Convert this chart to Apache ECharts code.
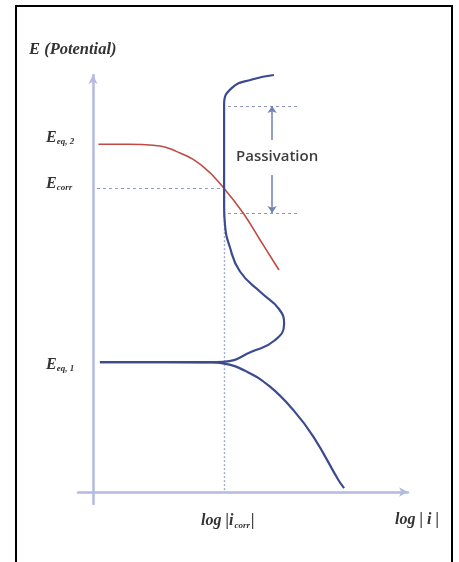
<!DOCTYPE html>
<html>
<head>
<meta charset="utf-8">
<script src="https://cdn.jsdelivr.net/npm/echarts@6/dist/echarts.min.js"></script>
<style>html,body{margin:0;padding:0;background:#fff}#c{width:459px;height:562px}</style>
</head>
<body>
<div id="c"></div>
<script>
// Schematic polarization diagram (arbitrary units): x = log|i|, y = E
const redCurveEq2 = [[0.18,11.59],[1.2,11.59],[2.0,11.56],[2.9,11.3],[3.68,10.84],[4.37,10.12],[5.01,9.29],[5.57,8.4],[6.2,7.4]];
const metalAnodic = [[0.23,4.33],[2.5,4.33],[3.9,4.33],[4.34,4.34],[5.3,4.68],[6.05,5.05],[6.37,5.6],[6.2,6.1],[5.6,6.65],[4.9,7.35],[4.55,8.2],[4.4,8.9],[4.37,9.5],[4.37,11.4],[4.37,12.9],[4.63,13.47],[5.3,13.75],[6.03,13.9]];
const metalCathodic = [[0.23,4.33],[2.5,4.33],[3.9,4.32],[4.33,4.29],[5.13,4.01],[5.9,3.51],[6.68,2.73],[7.35,1.84],[8.18,0.4],[8.37,0.13]];
const eCorr = 10.13;
const iCorr = 4.37;
const ecorrStartX = 0.13;
const passivationTop = 12.87;
const passivationBottom = 9.3;
const passivationX = [4.5, 6.9];
const passArrowX = 5.97;
const passArrowGap = [10.57, 11.73];

const chart = echarts.init(document.getElementById('c'), null, {renderer:'canvas'});
const serif = '"Liberation Serif", "DejaVu Serif", serif';
const guideColor = '#8f98c0';
const txtColor = '#333';
const big = 'italic bold 16px ' + serif;
const sub = 'italic bold 9px ' + serif;
const eLabel = (s) => ({text:'{e|E}{s|' + s + '}', rich:{e:{font:big, fill:txtColor, lineHeight:18}, s:{font:sub, fill:txtColor, lineHeight:18, padding:[8,0,0,0]}}});
const option = {
  animation:false,
  grid:{left:78, right:51, top:75, bottom:58},
  xAxis:{type:'value', min:-0.5, max:10.5, splitLine:{show:false}, axisTick:{show:false}, axisLabel:{show:false},
    axisLine:{onZero:true, symbol:['none','arrow'], symbolSize:[7,9], lineStyle:{color:'#b3bbe0', width:2.5}}},
  yAxis:{type:'value', min:-0.4, max:13.9, splitLine:{show:false}, axisTick:{show:false}, axisLabel:{show:false},
    axisLine:{onZero:true, symbol:['none','arrow'], symbolSize:[7,9], lineStyle:{color:'#b3bbe0', width:2.5}}},
  series:[
    {type:'lines', coordinateSystem:'cartesian2d', silent:true, symbol:'none',
      lineStyle:{color:guideColor, width:1, type:[3,3], opacity:1},
      data:[
        {coords:[[ecorrStartX,eCorr],[iCorr,eCorr]]},
        {coords:[[iCorr,eCorr],[iCorr,0]], lineStyle:{type:[2,2], width:1.4, color:'#a3abcc'}},
        {coords:[[passivationX[0],passivationTop],[passivationX[1],passivationTop]]},
        {coords:[[passivationX[0],passivationBottom],[passivationX[1],passivationBottom]]}
      ]},
    {type:'lines', coordinateSystem:'cartesian2d', silent:true, symbol:['none','arrow'], symbolSize:[6,7],
      lineStyle:{color:'#6d82b8', width:1.5, opacity:1},
      data:[
        {coords:[[passArrowX,passArrowGap[1]],[passArrowX,passivationTop]]},
        {coords:[[passArrowX,passArrowGap[0]],[passArrowX,passivationBottom]]}
      ]},
    {type:'line', data:redCurveEq2, smooth:0.45, showSymbol:false, clip:false,
      lineStyle:{color:'#bf4a44', width:1.6}},
    {type:'line', data:metalCathodic, smooth:0.45, showSymbol:false, clip:false,
      lineStyle:{color:'#3b4b8e', width:2.2}},
    {type:'line', data:metalAnodic, smooth:0.5, showSymbol:false, clip:false,
      lineStyle:{color:'#3b4b8e', width:2.2}}
  ],
  graphic:[
    {type:'rect', shape:{x:16, y:6, width:436, height:600}, style:{fill:'none', stroke:'#000', lineWidth:2}, silent:true},
    {type:'text', left:29, top:41, style:{text:'E (Potential)', font:'italic bold 16.5px '+serif, fill:txtColor}},
    {type:'text', left:236, top:149, style:{text:'Passivation', font:'600 15px "Open Sans", sans-serif', fill:'#3d3d3d'}},
    {type:'text', left:46, top:129, style:eLabel('eq, 2')},
    {type:'text', left:46, top:175, style:eLabel('corr')},
    {type:'text', left:46, top:356, style:eLabel('eq, 1')},
    {type:'text', left:201, top:512, style:{text:'{e|log |}{e|i}{s|corr}{e||}', rich:{e:{font:big, fill:txtColor, lineHeight:20}, s:{font:sub, fill:txtColor, lineHeight:20, padding:[9,1,0,1]}}}},
    {type:'text', left:395, top:512, style:{text:'log | i |', font:big, fill:txtColor}}
  ]
};
chart.setOption(option);
</script>
</body>
</html>
